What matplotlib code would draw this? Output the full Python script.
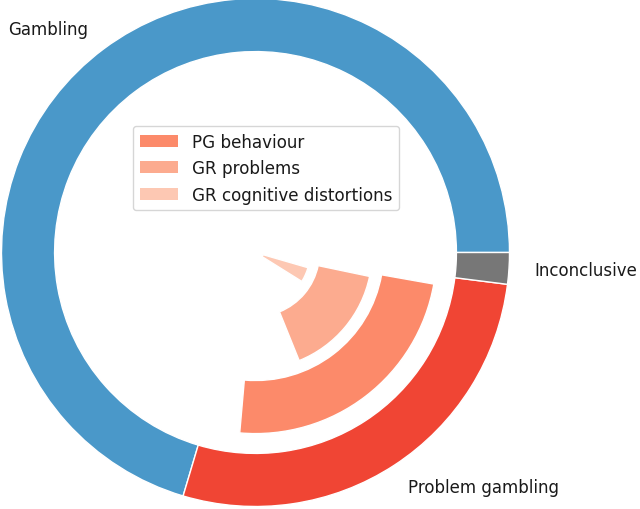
import matplotlib.pyplot as plt
from matplotlib.patches import Patch

# ============================================================
# DATA (counts, total = 250)
# ============================================================
outer_labels = ['Gambling', 'Problem gambling', 'Inconclusive']
outer_counts = [176, 69, 5]

inner_labels = ['PG behaviour', 'GR problems', 'GR cognitive distortions']
inner_counts = [59, 39, 11]

total = sum(outer_counts)

# ============================================================
# STYLE
# ============================================================
OUTER_COLOURS = ['#4a98c9', '#f04534', '#777777']
INNER_COLOURS = ['#fc8a6a', '#fcab8f', '#fdc8b3']
INNER_RADII = [0.713, 0.459, 0.215]
INNER_WIDTH = [0.209, 0.207, 0.185]
INNER_START = [265, 292, 328]   # degrees, where each inner arc begins

fig = plt.figure(figsize=(6.4, 5.1), dpi=100)
ax = fig.add_axes([0, 0, 1, 1])

# outer ring
ax.pie(outer_counts, labels=outer_labels, colors=OUTER_COLOURS,
       startangle=0, radius=1.0, labeldistance=1.1,
       textprops=dict(fontsize=12, color='#1a1a1a'),
       wedgeprops=dict(width=0.209, edgecolor='white', linewidth=1))

# inner arcs, one pie each, remainder left invisible
for n, r, w, start, col in zip(inner_counts, INNER_RADII, INNER_WIDTH,
                               INNER_START, INNER_COLOURS):
    wedges, _ = ax.pie([n, total - n], colors=[col, 'none'], radius=r,
                       startangle=start,
                       wedgeprops=dict(width=w, edgecolor='white', linewidth=1))
    wedges[1].set_edgecolor('none')

handles = [Patch(facecolor=c, edgecolor='none') for c in INNER_COLOURS]
leg = ax.legend(handles, inner_labels, loc='upper left',
                bbox_to_anchor=(0.208, 0.751), borderaxespad=0, fontsize=12.1,
                framealpha=0.8, edgecolor='#cccccc', handlelength=2.3,
                labelspacing=0.5)
for t in leg.get_texts():
    t.set_color('#1a1a1a')

# map data units to pixels: centre (255.5, 253.5), radius 254 px
ax.set_xlim(-255.5 / 254, (640 - 255.5) / 254)
ax.set_ylim((253.5 - 510) / 254, 253.5 / 254)
ax.set_aspect('auto')
ax.axis('off')

fig.savefig('out.png', dpi=100)
